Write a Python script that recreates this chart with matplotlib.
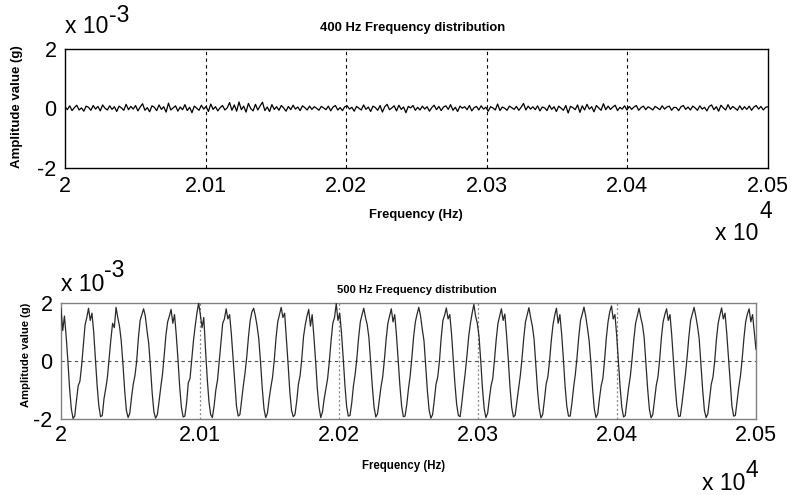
import numpy as np
import matplotlib
matplotlib.use('Agg')
import matplotlib.pyplot as plt
from matplotlib.ticker import FuncFormatter

plt.rcParams['axes.unicode_minus'] = False

# amplitude values, in units of 1e-3 g
noise_400 = [
    0.06, -0.04, 0.09, -0.07, 0.03, 0.11, -0.05, 0.02, -0.09, 0.08,
    0.04, -0.06, 0.10, -0.02, 0.07, -0.08, 0.12, 0.01, -0.05, 0.09,
    -0.03, 0.06, -0.10, 0.08, 0.02, -0.06, 0.14, -0.04, 0.07, -0.02,
    0.10, -0.08, 0.05, 0.16, -0.06, 0.03, -0.11, 0.09, 0.04, -0.07,
    0.12, -0.03, 0.06, -0.12, 0.18, -0.05, 0.02, 0.09, -0.09, 0.05,
    -0.04, 0.13, -0.07, 0.04, -0.14, 0.08, 0.01, -0.06, 0.11, -0.02,
    0.07, -0.10, 0.15, -0.03, 0.06, -0.08, 0.03, 0.10, -0.05, 0.02,
    0.20, -0.06, 0.12, -0.09, 0.22, -0.04, 0.08, -0.12, 0.17, 0.00,
    -0.08, 0.14, -0.05, 0.09, 0.21, -0.07, 0.05, -0.10, 0.13, -0.03,
    0.06, -0.06, 0.10, 0.02, -0.09, 0.07, -0.04, 0.11, -0.02, 0.05,
    -0.07, 0.09, 0.03, -0.05, 0.08, -0.03, 0.06, 0.01, -0.06, 0.07,
    0.02, -0.04, 0.08, -0.08, 0.05, 0.10, -0.05, 0.03, -0.07, 0.06,
    0.09, -0.02, 0.04, -0.09, 0.07, 0.01, -0.05, 0.12, -0.03, 0.05,
    -0.10, 0.08, 0.03, -0.06, 0.10, -0.12, 0.06, 0.14, -0.04, 0.02,
    0.09, -0.08, 0.11, -0.03, 0.05, -0.14, 0.07, 0.02, 0.10, -0.06,
    0.04, -0.05, 0.08, -0.02, 0.06, -0.09, 0.03, 0.11, -0.04, 0.07,
    -0.07, 0.05, 0.09, -0.03, 0.13, -0.06, 0.04, -0.10, 0.08, 0.01,
    0.06, -0.04, 0.10, -0.08, 0.03, 0.07, -0.05, 0.09, -0.02, 0.04,
    -0.09, 0.06, 0.02, -0.05, 0.15, -0.07, 0.05, 0.01, -0.06, 0.08,
    0.03, -0.03, 0.07, -0.06, 0.04, 0.17, -0.05, 0.08, -0.02, 0.06,
    -0.04, 0.09, -0.08, 0.05, 0.02, -0.07, 0.11, -0.03, 0.06, -0.10,
    0.08, 0.01, -0.06, 0.10, -0.15, 0.07, 0.03, -0.04, 0.12, -0.13,
    0.09, -0.05, 0.14, -0.02, 0.06, -0.11, 0.10, 0.02, -0.06, 0.16,
    -0.04, 0.08, -0.03, 0.05, 0.11, -0.07, 0.04, -0.02, 0.09, -0.05,
    0.07, -0.03, 0.05, 0.10, -0.06, 0.03, 0.08, -0.04, 0.06, 0.01,
    -0.05, 0.07, 0.02, -0.04, 0.09, -0.02, 0.05, 0.08, -0.06, 0.04,
    0.03, -0.07, 0.06, 0.10, -0.03, 0.05, -0.05, 0.08, 0.02, -0.06,
    0.09, -0.02, 0.04, -0.08, 0.07, 0.12, -0.04, 0.06, -0.09, 0.11,
    0.02, -0.05, 0.13, -0.03, 0.07, 0.01, -0.06, 0.09, -0.04, 0.06,
    -0.03, 0.08, -0.06, 0.05, 0.10, -0.02, 0.07, -0.05, 0.04, 0.06,
]

# 500 Hz record, one row per cycle (starts at a peak)
wave_500 = [
    [1.80, 1.05, 1.55, 0.85, 0.00, -0.95, -1.65, -1.98, -1.90, -1.35, -0.85, -0.70, -0.15, 0.55, 1.25, 1.50],
    [1.82, 1.40, 1.65, 1.00, 0.05, -0.85, -1.55, -1.92, -1.88, -1.30, -0.95, -0.55, 0.10, 0.75, 1.30, 1.15],
    [1.85, 1.50, 1.20, 0.70, -0.10, -1.00, -1.70, -1.95, -1.80, -1.25, -0.80, -0.50, 0.00, 0.80, 1.40, 1.60],
    [1.80, 1.55, 1.05, 0.60, -0.20, -1.10, -1.75, -1.97, -1.85, -1.40, -0.90, -0.45, 0.20, 0.90, 1.35, 1.55],
    [1.78, 1.30, 1.60, 0.90, 0.05, -0.90, -1.60, -1.93, -1.90, -1.45, -0.75, -0.60, 0.05, 0.70, 1.20, 1.65],
    [2.00, 1.60, 1.15, 1.50, 0.40, -0.60, -1.40, -1.85, -1.95, -1.55, -1.00, -0.65, 0.00, 0.65, 1.30, 1.45],
    [1.80, 1.45, 1.60, 0.95, 0.10, -0.80, -1.55, -1.90, -1.85, -1.35, -0.85, -0.40, 0.15, 0.85, 1.40, 1.70],
    [1.82, 1.55, 1.20, 0.75, -0.05, -0.95, -1.65, -1.95, -1.80, -1.30, -0.90, -0.55, 0.05, 0.80, 1.35, 1.60],
    [1.85, 1.50, 1.65, 0.80, -0.10, -1.05, -1.70, -1.92, -1.85, -1.40, -0.80, -0.50, 0.10, 0.85, 1.25, 1.55],
    [1.78, 1.20, 1.60, 0.85, 0.00, -0.95, -1.60, -1.95, -1.75, -1.30, -0.95, -0.60, 0.00, 0.70, 1.30, 1.50],
    [1.98, 1.40, 1.65, 1.00, 0.15, -0.80, -1.55, -1.90, -1.88, -1.45, -0.85, -0.45, 0.10, 0.80, 1.35, 1.60],
    [1.82, 1.50, 1.25, 0.80, -0.05, -0.90, -1.60, -1.93, -1.82, -1.35, -0.90, -0.55, 0.05, 0.75, 1.30, 1.55],
    [1.80, 1.35, 1.60, 0.90, 0.05, -0.85, -1.55, -1.92, -1.90, -1.50, -0.95, -0.50, 0.15, 0.85, 1.35, 1.62],
    [1.85, 1.55, 1.10, 0.70, -0.15, -1.05, -1.70, -1.97, -1.85, -1.35, -0.80, -0.55, 0.00, 0.80, 1.40, 1.58],
    [1.83, 1.45, 1.60, 0.95, 0.10, -0.80, -1.50, -1.88, -1.92, -1.45, -0.90, -0.40, 0.20, 0.85, 1.30, 1.65],
    [1.95, 1.55, 1.30, 0.85, 0.00, -0.95, -1.65, -1.95, -1.80, -1.30, -0.85, -0.60, 0.05, 0.75, 1.30, 1.55],
    [1.80, 1.40, 1.62, 0.90, 0.05, -0.90, -1.60, -1.93, -1.87, -1.40, -0.95, -0.50, 0.10, 0.80, 1.35, 1.60],
    [1.84, 1.50, 1.20, 0.75, -0.10, -1.00, -1.65, -1.96, -1.85, -1.35, -0.80, -0.55, 0.00, 0.70, 1.25, 1.58],
    [1.82, 1.30, 1.60, 0.95, 0.10, -0.85, -1.55, -1.90, -1.90, -1.45, -0.90, -0.45, 0.15, 0.85, 1.40, 1.62],
    [1.86, 1.55, 1.15, 0.70, -0.05, -0.95, -1.65, -1.95, -1.82, -1.30, -0.85, -0.60, 0.05, 0.80, 1.35, 1.70],
    [1.90, 1.45, 1.60, 0.90, 0.00, -0.90, -1.60, -1.93, -1.88, -1.40, -0.90, -0.50, 0.10, 0.75, 1.30, 1.55],
    [1.82, 1.50, 1.25, 0.80, -0.05, -0.95, -1.65, -1.96, -1.85, -1.35, -0.85, -0.55, 0.05, 0.80, 1.35, 1.60],
    [1.80, 1.40, 1.60, 0.90, 0.05, -0.85, -1.55, -1.91, -1.90, -1.45, -0.95, -0.45, 0.15, 0.85, 1.40, 1.62],
    [1.85, 1.55, 1.20, 0.75, -0.10, -1.00, -1.70, -1.95, -1.82, -1.30, -0.80, -0.55, 0.00, 0.75, 1.30, 1.58],
    [1.83, 1.45, 1.65, 0.95, 0.10, -0.80, -1.55, -1.90, -1.88, -1.40, -0.90, -0.50, 0.10, 0.80, 1.35, 1.62],
]
wave_500_tail = [1.80, 1.35, 1.60, 1.00, 0.40]

f_start, f_stop = 20000, 20500
xticks = [20000, 20100, 20200, 20300, 20400, 20500]
yticks = [-2, 0, 2]

y1 = np.array(noise_400)
f1 = np.linspace(f_start, f_stop, len(y1))
y2 = np.concatenate([np.concatenate(wave_500), wave_500_tail])
f2 = np.linspace(f_start, f_stop, len(y2))

W, H = 794, 495
fig = plt.figure(figsize=(W / 100, H / 100), dpi=100)

tickfont = 'Liberation Sans'
labfont = ['Liberation Sans Narrow', 'Liberation Sans']
xfmt = FuncFormatter(lambda v, p: '%g' % (v / 1e4))
big = 16.5


def px(x, y):
    return x / W, 1 - y / H


def style(ax, edge, ypad, xpad):
    ax.set_xlim(f_start, f_stop)
    ax.set_ylim(-2, 2)
    ax.set_xticks(xticks)
    ax.set_yticks(yticks)
    ax.xaxis.set_major_formatter(xfmt)
    ax.tick_params(direction='in', length=0, labelsize=15.5)
    ax.tick_params(axis='y', pad=ypad)
    ax.tick_params(axis='x', pad=xpad)
    for lab in ax.get_xticklabels() + ax.get_yticklabels():
        lab.set_fontfamily(tickfont)
    for s in ax.spines.values():
        s.set_color(edge)
        s.set_linewidth(1.0)


def power_label(x, y, exp, dx, dy):
    # MATLAB-style "x 10^n" written as two plain texts
    fig.text(*px(x, y), 'x 10', ha='left', va='baseline', fontsize=big, family=tickfont)
    fig.text(*px(x + dx, y - dy), exp, ha='left', va='baseline', fontsize=big,
             family=tickfont)


# top panel: 400 Hz
ax1 = fig.add_axes([65 / W, 1 - 168 / H, 703 / W, 119 / H])
ax1.plot(f1, y1, color='k', lw=0.9, zorder=3)
style(ax1, 'k', 6, 6)
for xv in xticks[1:-1]:
    ax1.axvline(xv, color='k', ls=(0, (3, 3)), lw=0.8, zorder=1)

fig.text(*px(413, 28), '400 Hz Frequency distribution', ha='center', va='center',
         fontsize=9.4, fontweight='bold', family=labfont)
fig.text(*px(416, 215), 'Frequency (Hz)', ha='center', va='center',
         fontsize=9.4, fontweight='bold', family=labfont)
fig.text(*px(17, 107), 'Amplitude value (g)', ha='center', va='center', rotation=90,
         fontsize=9.5, fontweight='bold', family=labfont)
power_label(65, 33, '-3', 44, 11)
power_label(715, 240, '4', 44, 22)

# bottom panel: 500 Hz
ax2 = fig.add_axes([61 / W, 1 - 419 / H, 695 / W, 116 / H])
ax2.plot(f2, y2, color='#2a2a2a', lw=0.9, zorder=3)
style(ax2, '#808080', 6, 4)
for xv in xticks[1:-1]:
    ax2.axvline(xv, color='#808080', ls=(0, (1.5, 2)), lw=0.9, zorder=1)
ax2.axhline(0, color='#505050', ls=(0, (3, 3)), lw=0.8, zorder=1)

fig.text(*px(417, 290), '500 Hz Frequency distribution', ha='center', va='center',
         fontsize=8, fontweight='bold', family=labfont)
fig.text(*px(404, 466), 'Frequency (Hz)', ha='center', va='center',
         fontsize=8.3, fontweight='bold', family=labfont)
fig.text(*px(26, 355), 'Amplitude value (g)', ha='center', va='center', rotation=90,
         fontsize=8.1, fontweight='bold', family=labfont)
power_label(61, 291, '-3', 43, 14)
power_label(702, 490, '4', 43, 13)

fig.savefig('out.png', dpi=100)
